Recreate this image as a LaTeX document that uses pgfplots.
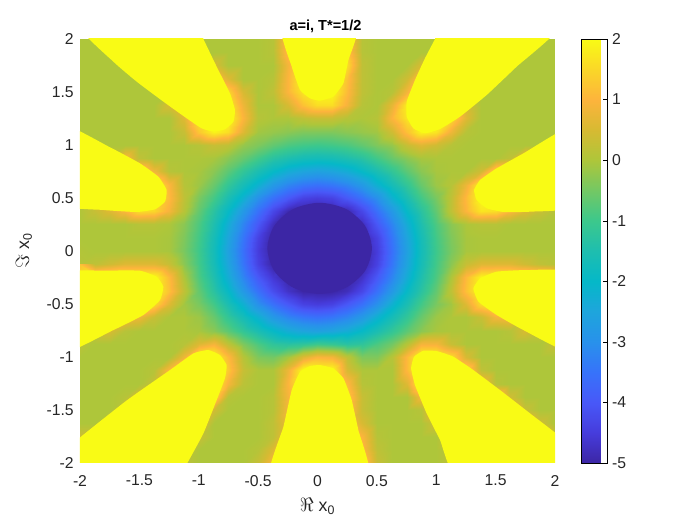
\documentclass[border=0pt]{standalone}
\usepackage{fontspec}
\setmainfont{Liberation Sans}
\usepackage{pgfplots}
\pgfplotsset{compat=1.18}
\definecolor{lobe}{RGB}{249,251,21}
\definecolor{core}{RGB}{60,38,165}
\definecolor{txt}{RGB}{38,38,38}
\begin{document}
\begin{tikzpicture}
\begin{axis}[
  scale only axis,
  width=356.25pt, height=318pt,
  xmin=-2, xmax=2, ymin=-2, ymax=2,
  xtick={-2,-1.5,...,2}, ytick={-2,-1.5,...,2},
  axis line style={draw=none},
  tick style={draw=none},
  /pgf/number format/assume math mode=true,
  tick label style={font=\fontsize{11.8}{13}\selectfont, text=txt},
  xticklabel style={yshift=-5.5pt},
  yticklabel style={xshift=-1.2pt},
  label style={font=\fontsize{13.3}{15}\selectfont, text=txt},
  xlabel style={yshift=-2pt},
  ylabel style={yshift=4pt},
  title style={font=\fontsize{10.9}{12}\selectfont\bfseries, yshift=-5pt, xshift=6pt},
  title={a=i, T*=1/2},
  xlabel={\(\Re\) x\textsubscript{0}},
  ylabel={\(\Im\) x\textsubscript{0}},
  point meta min=-5, point meta max=2,
  colormap={parula}{
    rgb255=(60,38,165) rgb255=(70,60,220) rgb255=(72,88,248) rgb255=(55,115,250)
    rgb255=(40,145,235) rgb255=(30,165,220) rgb255=(5,184,200) rgb255=(30,190,175)
    rgb255=(60,200,140) rgb255=(115,200,100) rgb255=(174,198,58) rgb255=(215,186,50)
    rgb255=(253,180,60) rgb255=(250,215,40) rgb255=(249,251,21)},
  colorbar,
  colorbar style={
    at={(parent axis.north east)}, anchor=north west, xshift=11.2pt,
    width=19.5pt,
    ytick={-5,-4,...,2},
    ytick pos=right, yticklabel pos=right,
    tick align=inside, major tick length=3pt,
    tick style={draw=black},
    axis line style={draw=black},
    /pgf/number format/assume math mode=true,
    yticklabel style={font=\fontsize{11.8}{13}\selectfont, text=txt, xshift=0pt},
  },
]
\addplot[surf, shader=interp, mesh/cols=33, point meta=\thisrow{v}]
  table[x expr={-2+0.125*mod(\coordindex,33)}, y expr={2-0.125*floor(\coordindex/33)}] {
v
0
0
0
0
0
0
0
0
0
0
0
0
0
.1
1.2
1.5
1.5
1.5
1.2
.1
0
0
0
0
0
0
0
0
0
0
0
0
0

0
0
0
0
0
0
0
0
0
0
0
0
0
.1
1.2
1.5
1.5
1.5
1.3
.1
0
0
0
0
0
0
0
0
0
0
0
0
0

0
0
0
0
0
0
0
0
0
.5
0
0
0
0
.9
1.8
2
2
1.6
.2
0
0
0
.5
0
0
0
0
0
0
0
0
0

0
0
0
0
0
0
0
0
0
1.2
.6
0
0
.1
1
1.9
2
2
1.2
.2
0
0
.4
1.3
0
0
0
0
0
0
0
0
0

0
0
0
0
0
0
0
0
0
2
1.5
.5
0
.2
1
1.7
2
2
1.1
.2
0
.1
.9
1.8
0
0
0
0
0
0
0
0
0

0
0
0
0
0
0
.5
1
2
2
1.8
.8
0
0
.5
1.2
1.6
1.6
.9
.1
0
.7
1.8
2
2
1.1
.5
0
0
0
0
0
0

0
0
0
0
0
0
0
.6
1.8
2
2
1
.1
0
0
.2
.3
.3
.1
0
.1
1
1.7
2
2
1.6
.6
0
0
0
0
0
0

0
0
0
0
0
0
0
.3
1.3
1.9
1.6
.6
-.1
-.2
-.3
-.4
-.4
-.4
-.3
-.2
-.1
.4
1.2
1.9
1.7
.8
.1
0
0
0
0
0
0

0
0
0
0
0
0
0
0
.1
.3
.2
-.2
-.4
-.65
-.85
-.95
-1
-.95
-.85
-.65
-.4
-.2
.3
.6
.4
.1
0
0
0
0
0
0
0

0
0
.3
1
.2
0
0
0
0
-.05
-.3
-.6
-.95
-1.3
-1.5
-1.65
-1.7
-1.65
-1.5
-1.3
-.95
-.6
-.3
-.05
0
0
0
0
0
.2
1
.5
0

0
0
.3
1
1.6
.8
.1
0
-.05
-.3
-.7
-1.15
-1.55
-1.95
-2.3
-2.5
-2.6
-2.5
-2.3
-1.95
-1.55
-1.15
-.7
-.3
-.05
0
0
.4
1.6
1
.3
0
0

0
0
.3
1.5
2
2
1
.1
-.15
-.6
-1.15
-1.65
-2.2
-2.8
-3.2
-3.45
-3.55
-3.45
-3.2
-2.8
-2.2
-1.65
-1.15
-.6
-.15
.1
.8
1.9
2
1.5
.3
0
0

0
.5
1
1.5
2
2
1.1
.2
-.45
-.95
-1.55
-2.2
-3
-3.55
-4
-4.4
-4.5
-4.4
-4
-3.55
-3
-2.2
-1.55
-.95
-.45
.2
1.1
2
2
1.5
1
.5
0

.1
.3
.6
1
1.6
1.5
.9
.1
-.65
-1.3
-1.95
-2.8
-3.55
-4.3
-4.9
-5
-5
-5
-4.9
-4.3
-3.55
-2.8
-1.95
-1.3
-.65
.2
1
1.7
1.6
1
.6
.3
.1

0
0
0
0
.1
.1
0
-.3
-.85
-1.5
-2.3
-3.2
-4
-4.8
-5
-5
-5
-5
-5
-4.8
-4
-3.2
-2.3
-1.5
-.85
-.3
0
.1
.1
0
0
0
0

0
0
0
0
0
0
-.05
-.4
-.95
-1.65
-2.5
-3.45
-4.4
-5
-5
-5
-5
-5
-5
-5
-4.4
-3.45
-2.5
-1.65
-.95
-.4
-.05
0
0
0
0
0
0

0
0
0
0
0
0
-.05
-.45
-1
-1.7
-2.6
-3.55
-4.5
-5
-5
-5
-5
-5
-5
-5
-4.5
-3.55
-2.6
-1.7
-1
-.45
-.05
0
0
0
0
0
0

.1
.2
.4
.6
.6
.6
.3
-.3
-.95
-1.65
-2.5
-3.45
-4.4
-5
-5
-5
-5
-5
-5
-5
-4.4
-3.45
-2.5
-1.65
-.95
-.3
.3
.6
.6
.6
.4
.2
.1

1.2
1.9
2
2
2
2
1.1
0
-.85
-1.5
-2.3
-3.2
-4
-4.6
-5
-5
-5
-5
-5
-4.7
-4
-3.2
-2.3
-1.5
-.85
0
1.1
1.9
2
2
2
1.9
1.2

2
2
2
2
2
2
1.2
.2
-.65
-1.3
-1.95
-2.8
-3.55
-4.2
-4.7
-5
-5
-5
-4.8
-4.3
-3.55
-2.8
-1.95
-1.3
-.65
.2
1.2
2
2
2
2
2
2

0
.5
1
1.6
2
1.6
.6
-.1
-.45
-.95
-1.55
-2.2
-3
-3.55
-4
-4.4
-4.5
-4.4
-4
-3.55
-3
-2.2
-1.55
-.95
-.45
-.1
.6
1.6
2
1.6
1
.5
0

0
.2
.6
1
.8
.3
0
0
-.15
-.6
-1.15
-1.65
-2.2
-2.8
-3.2
-3.45
-3.55
-3.45
-3.2
-2.8
-2.2
-1.65
-1.15
-.6
-.15
0
0
.3
.9
1
.6
.2
0

0
.3
.5
.1
0
0
0
0
-.05
-.3
-.7
-1.15
-1.55
-1.95
-2.3
-2.5
-2.6
-2.5
-2.3
-1.95
-1.55
-1.15
-.7
-.3
-.05
0
0
0
0
.1
.5
.3
0

.3
0
0
0
0
0
0
.1
.6
.9
.2
-.4
-.85
-1.2
-1.3
-1.2
-1
-1.1
-1.3
-1.2
-.85
-.5
.1
.9
.9
.3
0
0
0
0
0
0
.3

0
0
0
0
0
0
0
.8
2
2
1.1
.1
-.4
-.5
-.1
.6
1
.9
.2
-.4
-.4
.1
1.1
2
2
1.6
.5
0
0
0
0
0
0

0
0
0
0
0
.1
1
2
2
2
1.3
.3
0
0
.8
2
2
2
.5
0
0
0
1.1
2
2
2
1.6
.2
0
0
0
0
0

0
0
0
0
0
.3
1.6
2
2
2
.9
.15
0
0
1
2
2
2
1.1
.1
0
0
.6
2
2
2
2
1
.1
0
0
0
0

0
0
0
.1
.6
1
1.5
2
2
1.6
.1
0
0
.1
.9
2
2
2
1.4
.3
0
0
0
.9
1.2
2
2
1.8
1.5
.4
0
0
0

0
0
0
.5
1
1.5
1.5
1.5
1.2
.4
0
0
0
.1
.9
2
2
2
1.3
.3
0
0
0
.1
1
1.5
1.5
1.5
1.5
1
.3
0
0

0
0
.6
1
1
1
1
1
.8
0
0
0
0
.2
.8
1.8
1.8
1.8
1.1
.5
0
0
0
0
.4
1
1
1
1
1
1
.4
0

.4
.8
1
1
1
1
1
.8
.3
0
0
0
0
.2
1
1.8
1.8
1.8
1.6
1
.1
0
0
0
0
.5
1
1
1
1
1
1
.3

0
0
0
0
0
0
0
.3
0
0
0
0
.1
.6
1.2
1.5
1.5
1.5
1.5
1.1
.2
0
0
0
0
.2
0
0
0
0
0
0
0

0
0
0
0
0
0
0
.2
0
0
0
0
.3
1
1.5
1.5
1.5
1.5
1.5
1.4
.3
0
0
0
0
.2
0
0
0
0
0
0
0
};
% yellow lobes, the values there run off the top of the scale; ends run past the frame
\pgfplotsset{lobe plot/.style={draw=none, fill=lobe, smooth cycle, tension=.25, forget plot}}
\addplot[lobe plot] coordinates {(-1.99,2.12)(-1.01,2.12)(-.961,2)(-.849,1.739)(-.737,1.487)(-.695,1.33)(-.708,1.22)(-.779,1.148)(-.877,1.126)(-.975,1.157)(-1.102,1.252)(-1.298,1.409)(-1.523,1.598)(-1.719,1.786)};
\addplot[lobe plot] coordinates {(-2.2,1.21)(-1.747,.978)(-1.495,.827)(-1.34,.701)(-1.27,.576)(-1.284,.465)(-1.368,.393)(-1.523,.368)(-1.803,.387)(-2.2,.45)};
\addplot[lobe plot] coordinates {(-.3,2.12)(-.217,1.739)(-.147,1.519)(-.063,1.44)(.021,1.418)(.133,1.456)(.218,1.582)(.26,1.8)(.33,2.12)};
\addplot[lobe plot] coordinates {(1.05,2.12)(2.03,2.12)(1.677,1.739)(1.425,1.472)(1.2,1.267)(1.032,1.151)(.905,1.11)(.807,1.157)(.751,1.267)(.751,1.409)(.821,1.613)(.905,1.818)(.99,2)};
\addplot[lobe plot] coordinates {(2.2,1.2)(1.734,.921)(1.509,.78)(1.369,.67)(1.318,.576)(1.34,.481)(1.425,.403)(1.565,.368)(1.79,.371)(2.2,.43)};
\addplot[lobe plot] coordinates {(-2.2,-.22)(-1.775,-.186)(-1.495,-.186)(-1.354,-.243)(-1.298,-.337)(-1.326,-.463)(-1.466,-.604)(-1.719,-.746)(-2.2,-.98)};
\addplot[lobe plot] coordinates {(-2.2,-1.95)(-1.621,-1.422)(-1.242,-1.123)(-1.045,-.966)(-.919,-.934)(-.821,-.982)(-.765,-1.076)(-.779,-1.2)(-.849,-1.406)(-.961,-1.721)(-1.096,-2)(-1.18,-2.15)(-2.2,-2.2)};
\addplot[lobe plot] coordinates {(-.4,-2.15)(-.287,-1.658)(-.217,-1.312)(-.147,-1.139)(-.063,-1.085)(.021,-1.076)(.133,-1.107)(.218,-1.2)(.288,-1.406)(.344,-1.689)(.43,-2.15)};
\addplot[lobe plot] coordinates {(1.19,-2.15)(2.2,-2.2)(2.2,-1.9)(1.79,-1.532)(1.537,-1.312)(1.312,-1.123)(1.144,-.997)(1.004,-.944)(.891,-.941)(.813,-.997)(.788,-1.107)(.821,-1.265)(.919,-1.532)(1.032,-1.783)};
\addplot[lobe plot] coordinates {(2.2,-.21)(1.762,-.18)(1.509,-.195)(1.369,-.258)(1.312,-.353)(1.355,-.478)(1.509,-.604)(1.734,-.746)(2.2,-.98)};
% the centre falls below the bottom of the scale
\addplot[draw=none, fill=core, smooth cycle, forget plot] coordinates {(.458,.025)(.399,.24)(.238,.397)(.018,.455)(-.202,.397)(-.363,.24)(-.422,.025)(-.363,-.19)(-.202,-.347)(.018,-.405)(.238,-.347)(.399,-.19)};
\end{axis}
\useasboundingbox (-60pt,-46.5pt) rectangle (465pt,347.25pt);
\end{tikzpicture}
\end{document}
